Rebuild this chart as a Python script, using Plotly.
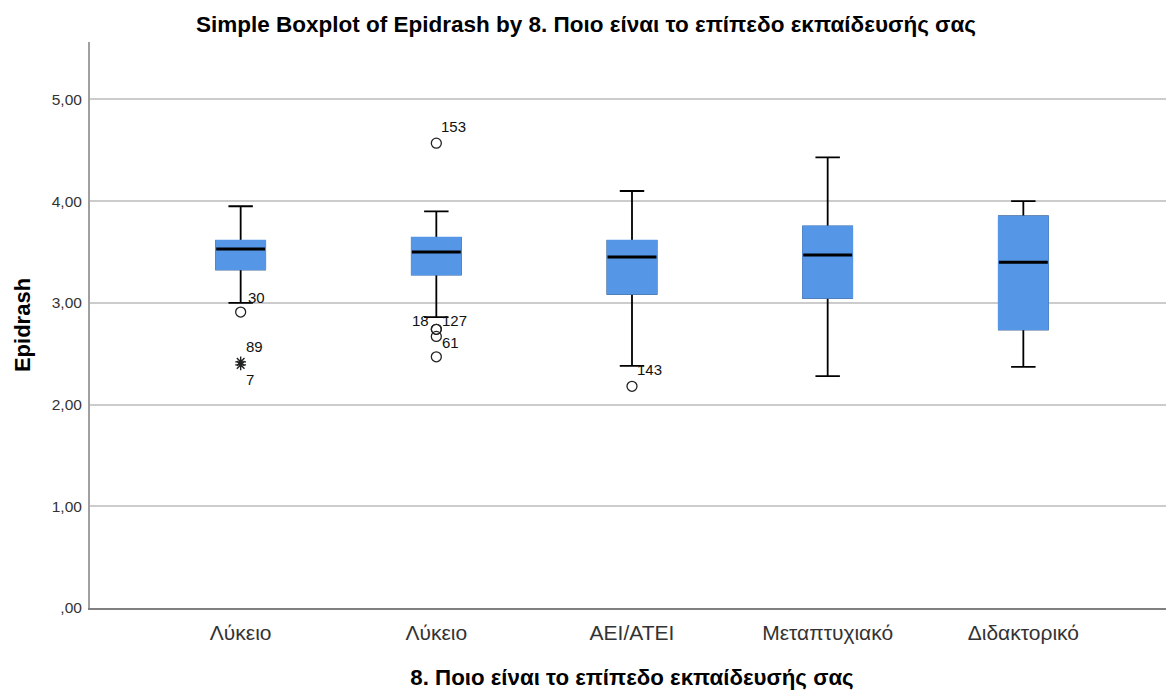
import plotly.graph_objects as go

# ---- data ----
categories = ["Λύκειο", "Λύκειο", "ΑΕΙ/ΑΤΕΙ", "Μεταπτυχιακό", "Διδακτορικό"]
q1 = [3.33, 3.28, 3.09, 3.05, 2.74]
median = [3.53, 3.50, 3.45, 3.47, 3.40]
q3 = [3.61, 3.64, 3.61, 3.75, 3.85]
lower_whisker = [3.00, 2.86, 2.38, 2.28, 2.37]
upper_whisker = [3.95, 3.90, 4.10, 4.43, 4.00]

# outliers (circles): group index, value, case label
outlier_group = [0, 1, 1, 1, 1, 1, 2]
outlier_value = [2.91, 4.57, 2.74, 2.74, 2.67, 2.47, 2.18]
outlier_label = ["30", "153", "18", "127", "61", "", "143"]

# extremes (asterisks)
extreme_group = [0, 0]
extreme_value = [2.42, 2.39]
extreme_label = ["89", "7"]

y_tick_vals = [0, 1, 2, 3, 4, 5]
y_tick_text = [",00", "1,00", "2,00", "3,00", "4,00", "5,00"]

title_text = "Simple Boxplot of Epidrash by 8. Ποιο είναι το επίπεδο εκπαίδευσής σας"
x_title = "8. Ποιο είναι το επίπεδο εκπαίδευσής σας"
y_title = "Epidrash"

# ---- styling ----
BLUE = "#5596e6"
FONT = "Liberation Sans, Arial, sans-serif"
pos = list(range(len(categories)))
BOXW = 0.25
W, H = 1166, 685  # page body has an 8px margin

fig = go.Figure()

# full box with whiskers and caps
fig.add_trace(go.Box(
    x=pos, q1=q1, median=median, q3=q3,
    lowerfence=lower_whisker, upperfence=upper_whisker,
    width=BOXW, whiskerwidth=0.5,
    fillcolor=BLUE, line=dict(color="black", width=1.8),
    boxpoints=False, showlegend=False, hoverinfo="skip",
))
# cover the box outline with blue
fig.add_trace(go.Box(
    x=pos, q1=q1, median=q1, q3=q3,
    lowerfence=q1, upperfence=q3,
    width=BOXW, whiskerwidth=0,
    fillcolor=BLUE, line=dict(color=BLUE, width=2),
    boxpoints=False, showlegend=False, hoverinfo="skip",
))
# thick median line
fig.add_trace(go.Box(
    x=pos, q1=median, median=median, q3=median,
    lowerfence=median, upperfence=median,
    width=BOXW, whiskerwidth=0,
    fillcolor="black", line=dict(color="black", width=3),
    boxpoints=False, showlegend=False, hoverinfo="skip",
))

fig.add_trace(go.Scatter(
    x=outlier_group, y=outlier_value, mode="markers",
    marker=dict(symbol="circle-open", size=10, color="#222222", line=dict(width=1.3)),
    showlegend=False, hoverinfo="skip",
))
fig.add_trace(go.Scatter(
    x=extreme_group, y=extreme_value, mode="markers",
    marker=dict(symbol="asterisk-open", size=9, color="#222222", line=dict(width=1.4)),
    showlegend=False, hoverinfo="skip",
))

# label offsets (pixels) for each case label
out_offsets = [(5, 15, "left"), (3, 17, "left"), (-5, 9, "right"), (4, 9, "left"),
               (4, -6, "left"), (0, 0, "left"), (3, 17, "left")]
ext_offsets = [(3, 15, "left"), (3, -15, "left")]

LABEL_FONT = dict(size=15, color="#111111", family=FONT)
for g, v, lab, (dx, dy, anc) in zip(outlier_group, outlier_value, outlier_label, out_offsets):
    if lab:
        fig.add_annotation(x=g, y=v, text=lab, showarrow=False, xanchor=anc,
                           xshift=dx, yshift=dy, font=LABEL_FONT)
for g, v, lab, (dx, dy, anc) in zip(extreme_group, extreme_value, extreme_label, ext_offsets):
    fig.add_annotation(x=g, y=v, text=lab, showarrow=False, xanchor=anc,
                       xshift=dx, yshift=dy, font=LABEL_FONT)

fig.update_layout(
    width=W, height=H,
    margin=dict(l=82, r=0, t=34, b=85, pad=0),
    paper_bgcolor="white", plot_bgcolor="white",
    font=dict(family=FONT, color="black"),
    title=dict(text="<b>" + title_text + "</b>", x=578 / W, xanchor="center",
               y=1 - 16 / H, yanchor="middle", font=dict(size=22.5, color="black")),
    xaxis=dict(
        range=[-0.77, 4.77], tickvals=pos, ticktext=categories,
        showgrid=False, zeroline=False,
        ticks="outside", ticklen=5, tickcolor="rgba(0,0,0,0)",
        showline=True, linecolor="#808080", linewidth=1.5,
        tickfont=dict(size=21, color="#333333"),
        title=dict(text="<b>" + x_title + "</b>", font=dict(size=22.3, color="black"), standoff=26),
    ),
    yaxis=dict(
        range=[0, 5.565], tickvals=y_tick_vals, ticktext=y_tick_text,
        showgrid=True, gridcolor="#cccccc", gridwidth=1.5,
        zeroline=False, ticks="outside", ticklen=3, tickcolor="rgba(0,0,0,0)",
        showline=True, linecolor="#a0a0a0", linewidth=2,
        tickfont=dict(size=15.5, color="#333333"),
        title=dict(text="<b>" + y_title + "</b>", font=dict(size=22, color="black"), standoff=15),
    ),
)

fig.write_html("out.html")
